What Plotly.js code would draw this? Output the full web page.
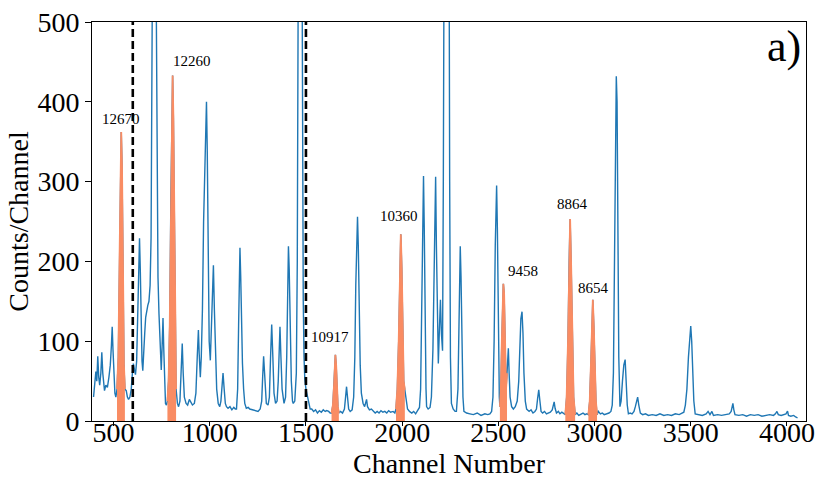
<!DOCTYPE html>
<html>
<head>
<meta charset="utf-8">
<script src="https://cdn.plot.ly/plotly-3.0.1.min.js"></script>
<style>html,body{margin:0;padding:0;background:#fff;}#chart{width:830px;height:498px;}</style>
</head>
<body>
<div id="chart"></div>
<script>
// Spectrum: channel numbers and counts
const channels = [396,402,408,413,418,423,428,434,439,444,448,453,460,468,476,483,489,493,497,502,507,512,518,525,531,536,540,544,549,554,559,566,572,578,585,592,598,603,608,614,620,626,631,635,639,644,648,652,657,662,667,672,678,684,690,695,700,705,710,715,720,726,731,736,742,748,752,757,761,765,770,775,780,786,792,798,803,807,811,816,820,825,832,838,845,850,857,862,868,877,885,894,902,910,920,928,935,941,945,951,956,962,968,974,979,983,987,992,997,1003,1008,1013,1019,1024,1030,1036,1044,1052,1058,1063,1069,1075,1081,1087,1095,1105,1115,1125,1133,1139,1145,1150,1154,1157,1161,1166,1170,1176,1182,1190,1200,1208,1220,1235,1251,1262,1270,1275,1280,1285,1290,1294,1303,1310,1316,1322,1328,1334,1342,1350,1356,1361,1365,1370,1376,1386,1394,1400,1405,1409,1413,1418,1424,1430,1434,1442,1450,1455,1460,1466,1470,1475,1480,1486,1490,1494,1500,1508,1515,1522,1530,1540,1550,1560,1570,1580,1590,1600,1608,1618,1626,1633,1640,1646,1650,1653,1657,1661,1666,1671,1680,1690,1700,1706,1711,1716,1722,1730,1740,1748,1754,1759,1764,1768,1772,1777,1782,1788,1797,1805,1810,1815,1820,1830,1840,1849,1860,1870,1880,1890,1900,1910,1920,1930,1940,1953,1962,1968,1975,1982,1987,1993,1998,2003,2008,2014,2020,2028,2038,2050,2060,2070,2080,2090,2096,2101,2106,2111,2115,2120,2124,2127,2135,2145,2152,2160,2166,2171,2174,2178,2183,2188,2193,2199,2204,2210,2214,2218,2224,2230,2236,2242,2247,2251,2256,2265,2275,2282,2290,2295,2299,2302,2306,2311,2316,2321,2335,2352,2370,2390,2410,2430,2445,2456,2465,2472,2478,2484,2488,2491,2495,2500,2505,2508,2513,2518,2522,2526,2530,2535,2540,2545,2549,2552,2556,2561,2569,2578,2588,2598,2606,2612,2617,2623,2628,2633,2640,2647,2660,2670,2680,2690,2698,2704,2710,2716,2722,2730,2740,2750,2760,2770,2780,2786,2790,2795,2802,2812,2820,2830,2840,2848,2855,2862,2868,2873,2878,2884,2891,2899,2908,2918,2930,2940,2950,2960,2968,2975,2981,2986,2991,2996,3001,3007,3013,3020,3030,3040,3050,3062,3075,3085,3092,3098,3104,3109,3113,3117,3121,3126,3132,3138,3145,3152,3159,3164,3170,3176,3185,3195,3205,3212,3218,3224,3230,3238,3250,3265,3280,3300,3320,3340,3360,3380,3400,3420,3440,3455,3464,3472,3480,3488,3495,3500,3505,3510,3516,3523,3540,3560,3580,3590,3600,3610,3618,3640,3660,3680,3700,3710,3715,3719,3724,3730,3750,3770,3790,3810,3830,3850,3870,3890,3910,3930,3940,3948,3955,3970,3985,3995,4003,4008,4020,4035,4045,4055];
const counts = [30,45,62,50,81,55,45,60,86,60,45,38,45,42,55,70,95,118,90,50,35,30,40,80,200,330,362,320,180,70,40,38,30,27,30,40,60,72,65,58,75,130,200,229,190,110,75,63,80,110,130,140,145,150,170,230,400,700,900,850,600,300,180,135,100,64,90,129,90,40,22,20,25,50,120,280,400,433,380,220,90,40,22,18,25,60,97,60,30,22,20,27,24,20,22,35,80,114,85,55,80,140,250,330,380,400,340,180,100,76,110,160,195,140,80,40,22,18,25,40,60,40,22,18,16,18,14,17,15,15,40,120,190,217,180,110,72,40,22,16,17,15,14,13,12,15,25,55,81,60,30,22,20,30,80,121,80,35,22,25,50,100,118,80,40,22,30,80,170,219,190,110,50,25,22,25,60,200,600,1200,1300,900,400,150,80,53,40,30,20,15,15,12,14,10,13,11,14,12,13,12,10,10,20,45,70,83,70,40,18,10,12,10,15,30,43,30,15,12,14,30,80,170,230,256,220,140,70,35,22,18,22,27,18,14,15,13,10,12,10,13,11,12,10,13,11,12,10,15,40,100,180,234,190,110,50,39,25,15,12,10,12,9,13,17,40,120,250,307,240,100,40,18,15,17,30,90,200,280,306,220,120,72,110,152,110,88,300,800,1400,1500,1400,800,300,80,22,15,12,12,40,120,200,219,180,90,30,12,10,9,8,10,7,9,8,9,12,30,100,220,280,295,240,100,30,18,40,100,150,172,160,90,40,60,85,91,60,30,18,15,18,25,50,100,128,137,110,60,25,15,12,14,10,12,15,28,39,25,12,10,12,9,10,11,14,20,24,16,10,12,9,11,9,8,30,100,200,253,200,100,30,8,10,7,9,10,8,9,8,25,70,120,152,120,70,25,8,12,9,10,8,9,10,12,20,60,200,380,432,400,250,80,18,25,50,70,77,50,20,9,10,9,12,18,26,30,20,10,8,9,7,8,7,9,7,8,7,9,8,10,11,20,40,80,110,119,100,60,25,9,8,7,9,12,8,12,7,8,7,8,9,12,18,22,14,8,7,8,6,8,7,8,6,7,8,7,9,12,8,7,8,9,12.5,7,6,7,5,4];

// Highlighted peaks: label and channel window
const peakLabels = ['12670','12260','10917','10360','9458','8864','8654'];
const peakLo = [515, 780, 1633, 1968, 2508, 2848, 2968];
const peakHi = [560, 825, 1671, 2014, 2545, 2899, 3013];

// Region boundaries (dashed lines)
const cutChannels = [600, 1500];

const xTicks = [500,1000,1500,2000,2500,3000,3500,4000];
const yTicks = [0,100,200,300,400,500];
const panelLabel = 'a)';

const traces = [];
traces.push({x: channels, y: counts, type: 'scatter', mode: 'lines',
  line: {color: '#1f77b4', width: 1.4}, hoverinfo: 'skip'});

const orange = '#f98c63';
const labelTops = [];
peakLabels.forEach((lab, i) => {
  const px = [], py = [];
  channels.forEach((c, j) => { if (c >= peakLo[i] && c <= peakHi[i]) { px.push(c); py.push(counts[j]); } });
  traces.push({x: px, y: py, type: 'scatter', mode: 'lines', fill: 'tozeroy',
    fillcolor: orange, line: {color: orange, width: 1.8}, hoverinfo: 'skip'});
  let mi = 0; py.forEach((v, k) => { if (v > py[mi]) mi = k; });
  labelTops.push([px[mi], py[mi]]);
});

cutChannels.forEach(c => {
  traces.push({x: [c, c], y: [0, 500], type: 'scatter', mode: 'lines',
    line: {color: 'black', width: 2.6, dash: '8px,4px'}, hoverinfo: 'skip'});
});

// label style offsets (pixels)
const labAnchor = ['center','left','center','center','left','center','center'];
const labDx = [0, -2, -5, -2, 3, 2, 1];
const labDy = [3, 4, 8, 8, 3, 5, 2];

const serif = 'Liberation Serif, Times New Roman, serif';
const annotations = peakLabels.map((lab, i) => ({
  x: labelTops[i][0], y: labelTops[i][1], xref: 'x', yref: 'y',
  text: lab, showarrow: false, xanchor: labAnchor[i], yanchor: 'bottom',
  xshift: labDx[i], yshift: labDy[i],
  font: {family: serif, size: 15, color: 'black'}
}));
annotations.push({x: 1, y: 1, xref: 'paper', yref: 'paper', text: panelLabel,
  showarrow: false, xanchor: 'right', yanchor: 'top', xshift: -3, yshift: 2,
  font: {family: serif, size: 44, color: 'black'}});

const layout = {
  width: 830, height: 498,
  margin: {l: 92, r: 24, t: 22, b: 77},
  paper_bgcolor: 'white', plot_bgcolor: 'white',
  showlegend: false,
  xaxis: {range: [388, 4099], tickvals: xTicks, ticktext: xTicks.map(String),
    ticks: 'outside', ticklen: 4, tickwidth: 1, tickcolor: 'black',
    ticklabelstandoff: -18,
    showline: true, linecolor: 'black', linewidth: 1, mirror: true,
    showgrid: false, zeroline: false,
    tickfont: {family: serif, size: 28, color: 'black'},
    title: {text: 'Channel Number', font: {family: serif, size: 28, color: 'black'}, standoff: 3}},
  yaxis: {range: [0, 500], tickvals: yTicks, ticktext: yTicks.map(String),
    ticks: 'outside', ticklen: 6, tickwidth: 1, tickcolor: 'black',
    showline: true, linecolor: 'black', linewidth: 1, mirror: true,
    showgrid: false, zeroline: false,
    tickfont: {family: serif, size: 28, color: 'black'},
    title: {text: 'Counts/Channel', font: {family: serif, size: 28, color: 'black'}, standoff: 0}},
  annotations: annotations
};

Plotly.newPlot('chart', traces, layout, {staticPlot: true, displayModeBar: false});
</script>
</body>
</html>
